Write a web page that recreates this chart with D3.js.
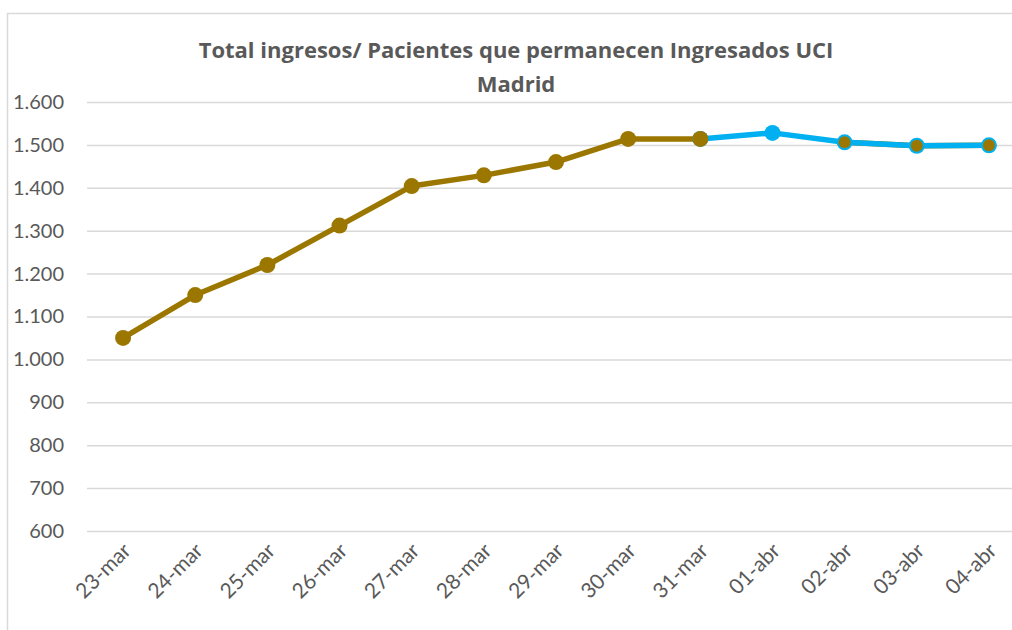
<!DOCTYPE html>
<meta charset="utf-8">
<style>
  body { margin: 0; background: #fff; }
  svg { display: block; }
</style>
<svg width="1012" height="630" font-family="Lato, 'Open Sans', sans-serif"></svg>
<script src="https://d3js.org/d3.v7.min.js"></script>
<script>

var categories = ["23-mar", "24-mar", "25-mar", "26-mar", "27-mar", "28-mar", "29-mar",
                  "30-mar", "31-mar", "01-abr", "02-abr", "03-abr", "04-abr"];

// brown series (hidden line after the gap, only its markers show)
var ingresos = [1050, 1150, 1220, 1312, 1404, 1429, 1460, 1514, 1514, null, 1506, 1498, 1499];

// blue series
var permanecen = [null, null, null, null, null, null, null, null, 1514, 1528, 1506, 1498, 1499];

var yTicks = [600, 700, 800, 900, 1000, 1100, 1200, 1300, 1400, 1500, 1600];

var svg = d3.select("svg"),
    width = +svg.attr("width"),
    height = +svg.attr("height");

var brown = "#9c7700",
    blue = "#00b0f0",
    grey = "#595959";

var x = d3.scaleBand()
    .domain(categories)
    .range([87, 1025]);

var y = d3.scaleLinear()
    .domain([600, 1600])
    .range([531, 102]);

var cx = function(d, i) { return x(categories[i]) + x.bandwidth() / 2; };

var fmt = d3.formatLocale({decimal: ",", thousands: ".", grouping: [3], currency: ["", "€"]}).format(",d");

// chart border
svg.append("rect")
    .attr("x", 7.5)
    .attr("y", 13.5)
    .attr("width", 1100)
    .attr("height", 700)
    .attr("fill", "none")
    .attr("stroke", "#d9d9d9")
    .attr("stroke-width", 1.5);

// title
var title = svg.append("text")
    .attr("text-anchor", "middle")
    .attr("font-family", "'Open Sans', sans-serif")
    .attr("font-weight", "bold")
    .attr("font-size", 22)
    .attr("fill", grey);

title.append("tspan").attr("x", 516).attr("y", 58)
    .text("Total ingresos/ Pacientes que permanecen Ingresados UCI");
title.append("tspan").attr("x", 516).attr("y", 92)
    .text("Madrid");

// y axis (gridlines + labels)
var yAxis = svg.append("g")
    .attr("transform", "translate(87,0)")
    .call(d3.axisLeft(y)
        .tickValues(yTicks)
        .tickSize(-938)
        .tickPadding(23)
        .tickFormat(fmt));

yAxis.select(".domain").remove();
yAxis.selectAll(".tick line")
    .attr("stroke", "#d9d9d9")
    .attr("stroke-width", 1.5);
yAxis.selectAll(".tick text")
    .attr("fill", grey)
    .attr("font-size", 20)
    .attr("font-family", "Lato, 'Open Sans', sans-serif");

// x axis labels
var xAxis = svg.append("g")
    .attr("transform", "translate(0,531)")
    .call(d3.axisBottom(x).tickSize(0).tickFormat(function(d) { return d; }));

xAxis.select(".domain").remove();
xAxis.selectAll(".tick text")
    .attr("fill", grey)
    .attr("font-size", 21)
    .attr("font-family", "Lato, 'Open Sans', sans-serif")
    .attr("text-anchor", "end")
    .attr("dy", null)
    .attr("y", null)
    .attr("transform", "translate(9,21) rotate(-45)");

// lines
var line = d3.line()
    .defined(function(d) { return d != null; })
    .x(cx)
    .y(function(d) { return y(d); });

svg.append("path")
    .datum(ingresos)
    .attr("fill", "none")
    .attr("stroke", brown)
    .attr("stroke-width", 5.5)
    .attr("stroke-linejoin", "round")
    .attr("d", line);

svg.append("path")
    .datum(permanecen)
    .attr("fill", "none")
    .attr("stroke", blue)
    .attr("stroke-width", 5.5)
    .attr("stroke-linejoin", "round")
    .attr("d", line);

// markers
function markers(values, color, radius) {
  svg.append("g")
    .selectAll("circle")
    .data(values.map(function(v, i) { return {v: v, i: i}; })
        .filter(function(d) { return d.v != null; }))
    .join("circle")
      .attr("cx", function(d) { return cx(d.v, d.i); })
      .attr("cy", function(d) { return y(d.v); })
      .attr("r", function(d) { return radius(d.i); })
      .attr("fill", color);
}

var gap = ingresos.indexOf(null);

markers(permanecen, blue, function() { return 8; });
markers(ingresos, brown, function(i) { return i > gap ? 6 : 8; });

</script>
